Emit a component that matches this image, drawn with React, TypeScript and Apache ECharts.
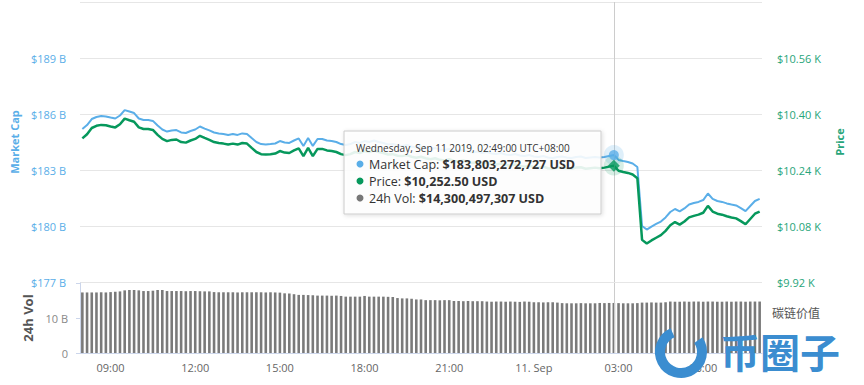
import React, { useEffect, useRef } from "react";
import * as echarts from "echarts";

// 10-minute samples from Sep 10 2019 08:00 to Sep 11 2019 08:00 (UTC+8)
const START_LABEL_DAY1 = "09-10";
const START_LABEL_DAY2 = "09-11";
const STEP_MIN = 10;
const N_POINTS = 145;

// Market cap in billions USD
const marketCapB = [
  185.20, 185.41, 185.73, 185.84, 185.89, 185.87, 185.81, 185.76, 185.92, 186.21,
  186.13, 186.05, 185.76, 185.68, 185.68, 185.63, 185.38, 185.17, 185.06, 185.12,
  185.14, 185.01, 184.98, 185.09, 185.17, 185.33, 185.22, 185.12, 185.01, 184.96,
  184.93, 184.88, 184.93, 184.88, 184.96, 184.93, 184.71, 184.50, 184.39, 184.37,
  184.39, 184.42, 184.55, 184.47, 184.45, 184.58, 184.69, 184.29, 184.71, 184.29,
  184.66, 184.66, 184.58, 184.55, 184.50, 184.39, 184.34, 184.39, 184.50, 184.45,
  184.55, 184.50, 184.58, 184.50, 184.45, 184.37, 184.39, 184.31, 184.29, 184.34,
  184.26, 184.21, 184.26, 184.18, 184.13, 184.18, 184.10, 184.07, 184.13, 184.04,
  184.02, 184.07, 183.99, 183.94, 183.99, 183.91, 183.96, 183.88, 183.86, 183.91,
  183.83, 183.80, 183.86, 183.78, 183.75, 183.80, 183.72, 183.70, 183.75, 183.67,
  183.64, 183.70, 183.72, 183.67, 183.64, 183.70, 183.72, 183.64, 183.67, 183.70,
  183.67, 183.70, 183.75, 183.80, 183.54, 183.48, 183.43, 183.35, 183.16, 180.00,
  179.81, 179.97, 180.11, 180.24, 180.46, 180.75, 180.91, 180.78, 180.94, 181.15,
  181.23, 181.29, 181.39, 181.74, 181.45, 181.34, 181.29, 181.21, 181.15, 181.10,
  180.96, 180.80, 181.07, 181.34, 181.45,
];

// Price in USD
const priceUSD = [
  10330.5, 10342.2, 10360.0, 10366.2, 10368.9, 10367.8, 10364.5, 10361.7, 10370.6, 10386.8,
  10382.3, 10377.9, 10361.7, 10357.2, 10357.2, 10354.4, 10340.5, 10328.8, 10322.6, 10326.0,
  10327.1, 10319.9, 10318.2, 10324.3, 10328.8, 10337.7, 10331.6, 10326.0, 10319.9, 10317.1,
  10315.4, 10312.6, 10315.4, 10312.6, 10317.1, 10315.4, 10303.1, 10291.4, 10285.3, 10284.2,
  10285.3, 10286.9, 10294.2, 10289.7, 10288.6, 10295.9, 10302.0, 10279.7, 10303.1, 10279.7,
  10300.3, 10300.3, 10295.9, 10294.2, 10291.4, 10285.3, 10282.5, 10285.3, 10291.4, 10288.6,
  10294.2, 10291.4, 10295.9, 10291.4, 10288.6, 10284.2, 10285.3, 10280.8, 10279.7, 10282.5,
  10278.0, 10275.2, 10278.0, 10273.6, 10270.8, 10273.6, 10269.1, 10267.4, 10270.8, 10265.8,
  10264.6, 10267.4, 10263.0, 10260.2, 10263.0, 10258.5, 10261.3, 10256.8, 10255.7, 10258.5,
  10254.0, 10252.4, 10255.7, 10251.3, 10249.6, 10252.4, 10247.9, 10246.8, 10249.6, 10245.1,
  10243.4, 10246.8, 10247.9, 10245.1, 10243.4, 10246.8, 10247.9, 10243.4, 10245.1, 10246.8,
  10245.1, 10246.8, 10249.6, 10252.5, 10237.9, 10234.5, 10231.7, 10227.3, 10216.7, 10040.4,
  10029.8, 10038.7, 10046.5, 10053.8, 10066.1, 10082.2, 10091.2, 10083.9, 10092.8, 10104.5,
  10109.0, 10112.4, 10117.9, 10137.4, 10121.3, 10115.1, 10112.4, 10107.9, 10104.5, 10101.8,
  10094.0, 10085.0, 10100.1, 10115.1, 10121.3,
];

// 24h volume in billions USD
const volumeB = [
  17.3, 17.3, 17.3, 17.3, 17.35, 17.3, 17.4,
  17.5, 17.6,
  17.9, 18.0, 18.0, 17.9,
  17.7, 17.7, 17.8,
  18.0, 18.0,
  17.7, 17.7, 17.7, 17.7, 17.65, 17.7, 17.7, 17.65, 17.6, 17.6,
  17.4, 17.35, 17.35, 17.35, 17.35, 17.3, 17.35, 17.35, 17.35, 17.35, 17.35, 17.3, 17.35, 17.3, 17.25,
  17.05, 17.0, 16.8,
  16.6, 16.6, 16.55, 16.5,
  16.4, 16.4, 16.4, 16.35, 16.4, 16.3,
  16.1, 16.1, 16.1, 16.1, 16.3,
  16.1, 16.1, 16.1, 16.1, 16.05, 16.0,
  15.7, 15.6, 15.6, 15.5,
  15.3, 15.3,
  15.1, 15.1, 15.1, 15.05, 15.1, 15.1,
  14.85, 14.85, 14.8, 14.85, 14.8, 14.8, 14.8,
  14.7, 14.65, 14.7, 14.7, 14.65, 14.7, 14.65, 14.6, 14.7, 14.65,
  14.5, 14.5, 14.45, 14.5, 14.5, 14.4,
  14.25, 14.2, 14.2, 14.2, 14.25, 14.2, 14.2, 14.2, 14.3, 14.25, 14.3, 14.3, 14.25, 14.2, 14.2, 14.2, 14.25,
  14.4, 14.4, 14.45, 14.4, 14.4, 14.5,
  14.7, 14.65, 14.65, 14.7, 14.65, 14.7, 14.7, 14.65, 14.7, 14.7,
  14.65, 14.65, 14.7, 14.65, 14.7, 14.7, 14.65, 14.7, 14.7, 14.7,
];

const capTicksB = [177, 180, 183, 186, 189, 192];
const priceTicksK = [9.92, 10.08, 10.24, 10.4, 10.56, 10.72];
const HOVER_INDEX = 113;
const tooltipTitle = "Wednesday, Sep 11 2019, 02:49:00 UTC+08:00";
const tooltipCap = "$183,803,272,727 USD";
const tooltipPrice = "$10,252.50 USD";
const tooltipVol = "$14,300,497,307 USD";
const watermarkMain = "币圈子";
const watermarkSub = "碳链价值";

const BLUE = "#5aaee8";
const GREEN = "#06985c";
const GREEN_AXIS = "#27a57a";
const GRAY_BAR = "#7a7a7a";
const FONT = "'Open Sans', 'DejaVu Sans', sans-serif";

function buildCategories(): string[] {
  const out: string[] = [];
  for (let i = 0; i < N_POINTS; i++) {
    const totalMin = 8 * 60 + i * STEP_MIN;
    const day = totalMin >= 24 * 60 ? START_LABEL_DAY2 : START_LABEL_DAY1;
    const m = totalMin % (24 * 60);
    const hh = String(Math.floor(m / 60)).padStart(2, "0");
    const mm = String(m % 60).padStart(2, "0");
    out.push(`${day} ${hh}:${mm}`);
  }
  return out;
}

export default function App() {
  const ref = useRef<HTMLDivElement>(null);

  useEffect(() => {
    if (!ref.current) return;
    const chart = echarts.init(ref.current, null, { renderer: "svg" });
    const categories = buildCategories();

    const showLabel = (_i: number, v: string) => {
      const t = v.split(" ")[1];
      const [hh, mm] = t.split(":").map(Number);
      return mm === 0 && hh % 3 === 0;
    };
    const fmtLabel = (v: string) => {
      const t = v.split(" ")[1];
      if (t === "00:00") return "11. Sep";
      return t;
    };

    const hoverCap = marketCapB.map((v, i) => (i === HOVER_INDEX ? v : "-"));
    const hoverPrice = priceUSD.map((v, i) => (i === HOVER_INDEX ? v : "-"));

    const tipX = 344;
    const tipY = 131;
    const TZ = 200;

    const row = (cy: number, color: string, label: string, value: string) => [
      {
        type: "circle",
        z: TZ + 1,
        shape: { cx: tipX + 16, cy, r: 3.5 },
        style: { fill: color },
      },
      {
        type: "text",
        z: TZ + 1,
        x: tipX + 25,
        y: cy,
        style: {
          text: `{a|${label} }{b|${value}}`,
          verticalAlign: "middle",
          rich: {
            a: { fill: "#333333", font: `12.5px ${FONT}`, lineHeight: 13 },
            b: { fill: "#333333", font: `bold 12.5px ${FONT}`, lineHeight: 13 },
          },
        },
      },
    ];

    chart.setOption({
      animation: false,
      textStyle: { fontFamily: FONT },
      grid: [
        { left: 80, right: 102, top: 2, height: 280 },
        { left: 80, right: 102, top: 283, height: 70 },
      ],
      xAxis: [
        {
          type: "category",
          gridIndex: 0,
          data: categories,
          boundaryGap: true,
          show: false,
        },
        {
          type: "category",
          gridIndex: 1,
          data: categories,
          boundaryGap: true,
          axisLine: { lineStyle: { color: "#ccd6eb" } },
          axisTick: {
            alignWithLabel: true,
            interval: showLabel,
            length: 6,
            lineStyle: { color: "#ccd6eb" },
          },
          axisLabel: {
            interval: showLabel,
            formatter: fmtLabel,
            color: "#666666",
            fontSize: 11,
            margin: 9,
            fontFamily: FONT,
          },
        },
      ],
      yAxis: [
        {
          type: "value",
          gridIndex: 0,
          min: capTicksB[0],
          max: capTicksB[capTicksB.length - 1],
          interval: 3,
          name: "Market Cap",
          nameLocation: "middle",
          nameGap: 60,
          nameTextStyle: { color: BLUE, fontSize: 11, fontWeight: "bold", fontFamily: FONT },
          axisLine: { show: false },
          axisTick: { show: false },
          splitLine: { lineStyle: { color: "#e6e6e6" } },
          axisLabel: {
            color: BLUE,
            fontSize: 11,
            margin: 14,
            fontFamily: FONT,
            formatter: (v: number) => (v >= 192 ? "" : `$${v} B`),
          },
        },
        {
          type: "value",
          gridIndex: 0,
          position: "right",
          min: priceTicksK[0] * 1000,
          max: priceTicksK[priceTicksK.length - 1] * 1000,
          interval: 160,
          name: "Price",
          nameLocation: "middle",
          nameGap: 72,
          nameTextStyle: { color: GREEN_AXIS, fontSize: 11, fontWeight: "bold", fontFamily: FONT },
          axisLine: { show: false },
          axisTick: { show: false },
          splitLine: { show: false },
          axisLabel: {
            color: GREEN_AXIS,
            fontSize: 11,
            margin: 15,
            fontFamily: FONT,
            formatter: (v: number) => (v >= 10720 ? "" : `$${(v / 1000).toFixed(2)} K`),
          },
        },
        {
          type: "value",
          gridIndex: 1,
          min: 0,
          max: 20,
          interval: 10,
          name: "24h Vol",
          nameLocation: "middle",
          nameGap: 46,
          nameTextStyle: { color: "#555555", fontSize: 13, fontWeight: "bold", fontFamily: FONT },
          axisLine: { show: true, lineStyle: { color: "#ccd6eb" } },
          axisTick: { show: true, length: 4, lineStyle: { color: "#ccd6eb" } },
          splitLine: { show: false },
          axisLabel: {
            color: "#888888",
            fontSize: 11,
            margin: 12,
            fontFamily: FONT,
            formatter: (v: number) => (v === 0 ? "0" : v >= 20 ? "" : `${v} B`),
          },
        },
      ],
      series: [
        {
          name: "Market Cap",
          type: "line",
          xAxisIndex: 0,
          yAxisIndex: 0,
          data: marketCapB,
          showSymbol: false,
          lineStyle: { color: BLUE, width: 2 },
          itemStyle: { color: BLUE },
          z: 3,
          markLine: {
            silent: true,
            symbol: ["none", "none"],
            label: { show: false },
            lineStyle: { color: "#cccccc", width: 1, type: "solid" },
            data: [{ xAxis: HOVER_INDEX }],
          },
        },
        {
          name: "Price",
          type: "line",
          xAxisIndex: 0,
          yAxisIndex: 1,
          data: priceUSD,
          showSymbol: false,
          lineStyle: { color: GREEN, width: 2.5 },
          itemStyle: { color: GREEN },
          z: 4,
        },
        {
          name: "24h Vol",
          type: "bar",
          xAxisIndex: 1,
          yAxisIndex: 2,
          data: volumeB,
          barCategoryGap: "45%",
          itemStyle: { color: GRAY_BAR },
          markLine: {
            silent: true,
            symbol: ["none", "none"],
            label: { show: false },
            lineStyle: { color: "#cccccc", width: 1, type: "solid" },
            data: [{ xAxis: HOVER_INDEX }],
          },
        },
        {
          type: "scatter",
          xAxisIndex: 0,
          yAxisIndex: 0,
          data: hoverCap,
          symbol: "circle",
          symbolSize: 20,
          itemStyle: { color: "rgba(90,174,232,0.25)" },
          z: 6,
        },
        {
          type: "scatter",
          xAxisIndex: 0,
          yAxisIndex: 0,
          data: hoverCap,
          symbol: "circle",
          symbolSize: 10,
          itemStyle: { color: BLUE },
          z: 7,
        },
        {
          type: "scatter",
          xAxisIndex: 0,
          yAxisIndex: 1,
          data: hoverPrice,
          symbol: "circle",
          symbolSize: 20,
          itemStyle: { color: "rgba(6,152,92,0.2)" },
          z: 6,
        },
        {
          type: "scatter",
          xAxisIndex: 0,
          yAxisIndex: 1,
          data: hoverPrice,
          symbol: "diamond",
          symbolSize: 12,
          itemStyle: { color: GREEN },
          z: 7,
        },
      ],
      graphic: [
        {
          type: "rect",
          z: TZ,
          shape: { x: tipX, y: tipY, width: 257, height: 83 },
          style: {
            fill: "rgba(255,255,255,0.88)",
            stroke: "#cccccc",
            lineWidth: 1,
            shadowBlur: 4,
            shadowOffsetX: 1,
            shadowOffsetY: 1,
            shadowColor: "rgba(0,0,0,0.15)",
          },
        },
        {
          type: "text",
          z: TZ + 1,
          x: tipX + 12,
          y: tipY + 17,
          style: {
            text: tooltipTitle,
            fill: "#333333",
            font: `10px ${FONT}`,
            verticalAlign: "middle",
          },
        },
        ...row(tipY + 33, BLUE, "Market Cap:", tooltipCap),
        ...row(tipY + 50, GREEN, "Price:", tooltipPrice),
        ...row(tipY + 67, "#777777", "24h Vol:", tooltipVol),
        {
          type: "arc",
          z: TZ + 5,
          shape: { cx: 681, cy: 352, r: 21, startAngle: -0.6, endAngle: 4.3 },
          style: { stroke: "#3b8dd0", lineWidth: 10, fill: "none" },
        },
        {
          type: "text",
          z: TZ + 5,
          x: 720,
          y: 351,
          style: {
            text: watermarkMain,
            fill: "#3b8dd0",
            font: `bold 40px 'Noto Sans CJK SC', sans-serif`,
            verticalAlign: "middle",
          },
        },
        {
          type: "text",
          z: TZ + 5,
          x: 772,
          y: 312,
          style: {
            text: watermarkSub,
            fill: "#555555",
            font: `12px 'Noto Sans CJK SC', sans-serif`,
            verticalAlign: "middle",
          },
        },
      ],
    });

    return () => chart.dispose();
  }, []);

  return (
    <div
      ref={ref}
      style={{ position: "fixed", left: 0, top: 0, width: 864, height: 385, background: "#ffffff" }}
    />
  );
}
